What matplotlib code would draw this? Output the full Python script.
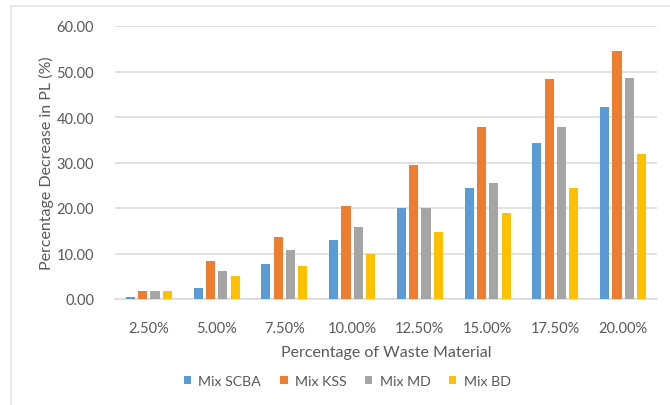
import matplotlib
matplotlib.use("Agg")
import matplotlib.pyplot as plt
from matplotlib.lines import Line2D
import numpy as np

# Replacement levels and the decrease in plastic limit for each mix
categories = ["2.50%", "5.00%", "7.50%", "10.00%", "12.50%", "15.00%", "17.50%", "20.00%"]
mix_scba = [0.5, 2.5, 7.7, 13.0, 20.0, 24.5, 34.2, 42.3]
mix_kss = [1.8, 8.4, 13.6, 20.4, 29.4, 37.7, 48.4, 54.4]
mix_md = [1.8, 6.1, 10.8, 15.8, 20.0, 25.6, 37.7, 48.6]
mix_bd = [1.8, 5.1, 7.3, 9.9, 14.7, 19.0, 24.5, 31.9]
series_names = ["Mix SCBA", "Mix KSS", "Mix MD", "Mix BD"]
y_ticks = [0, 10, 20, 30, 40, 50, 60]

colors = ["#5B9BD5", "#ED7D31", "#A5A5A5", "#FFC000"]
text_color = "#595959"
grid_color = "#D9D9D9"

plt.rcParams["font.family"] = ["Lato", "DejaVu Sans"]

W, H = 670, 406
fig = plt.figure(figsize=(W / 100, H / 100), dpi=100)
fig.patch.set_facecolor("white")

# chart-area frame (top and left edges)
fig.add_artist(Line2D([10.5 / W, 10.5 / W], [0, 1 - 6.5 / H], color="#E4E4E4", lw=1.2))
fig.add_artist(Line2D([10.5 / W, 1], [1 - 6.5 / H, 1 - 6.5 / H], color="#E4E4E4", lw=1.2))

left, right, top, bottom = 115, 657, 27, 300
ax = fig.add_axes([left / W, 1 - bottom / H, (right - left) / W, (bottom - top) / H])

x = np.arange(len(categories))
pitch = 0.182
width = 0.135
all_series = [mix_scba, mix_kss, mix_md, mix_bd]
for i, (vals, name, c) in enumerate(zip(all_series, series_names, colors)):
    ax.bar(x + (i - 1.5) * pitch, vals, width=width, color=c, label=name, zorder=3)

ax.set_xlim(-0.5, len(categories) - 0.5)
ax.set_ylim(0, 60)
ax.set_yticks(y_ticks)
ax.set_yticklabels([f"{v:.2f}" for v in y_ticks])
ax.set_xticks(x)
ax.set_xticklabels(categories)
ax.yaxis.grid(True, color=grid_color, lw=1.1, zorder=0)
ax.set_axisbelow(True)
for s in ["top", "right", "left"]:
    ax.spines[s].set_visible(False)
ax.spines["bottom"].set_color(grid_color)
ax.spines["bottom"].set_linewidth(1.1)
ax.tick_params(axis="both", length=0, colors=text_color, labelsize=10.5)
ax.tick_params(axis="y", pad=15)
ax.tick_params(axis="x", pad=16)

ax.set_xlabel("Percentage of Waste Material", fontsize=11.5, color=text_color, labelpad=7)
ax.set_ylabel("Percentage Decrease in PL (%)", fontsize=11.5, color=text_color, labelpad=2)

fig.legend(loc="center", bbox_to_anchor=(347 / W, 1 - 382 / H), ncol=4, frameon=False,
           fontsize=10.2, handlelength=0.55, handleheight=0.55, handletextpad=0.5,
           columnspacing=1.3, labelcolor=text_color)

fig.savefig("out.png", dpi=100, facecolor="white")
